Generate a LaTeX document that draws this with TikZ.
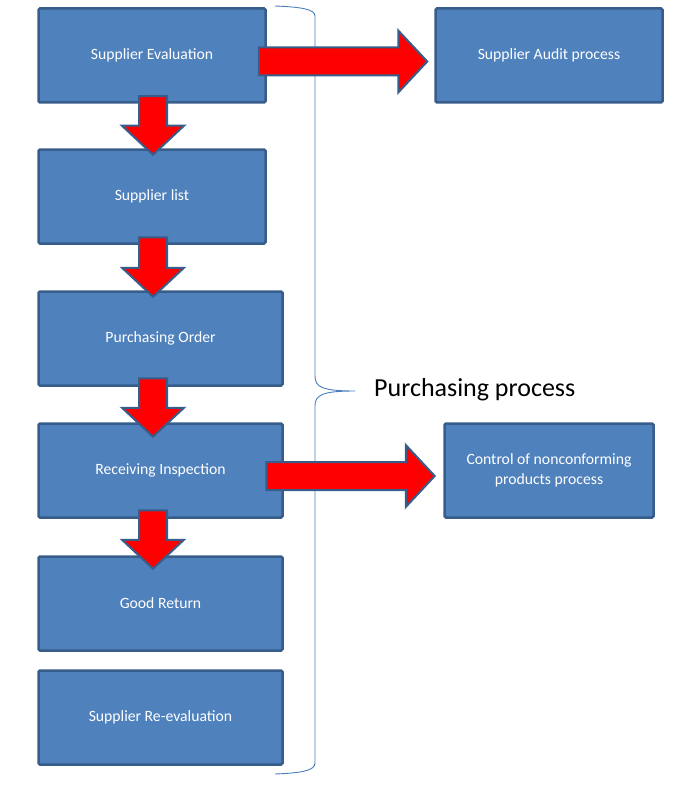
\documentclass[tikz,border=0pt]{standalone}
\usepackage{fontspec}
\setmainfont{Carlito}
\usetikzlibrary{calc}
\definecolor{boxfill}{HTML}{4F81BD}
\definecolor{boxline}{HTML}{385D8A}
\definecolor{bracecol}{HTML}{4A7EBB}
\newcommand{\varrowshape}[2]{%
  \draw[redarrow] let \p1=(#1), \p2=(#2) in
    (\x1-14pt,\y1) -- (\x1+14pt,\y1) -- (\x1+14pt,\y2+29pt) -- (\x1+31pt,\y2+29pt)
    -- (\x2,\y2) -- (\x1-31pt,\y2+29pt) -- (\x1-14pt,\y2+29pt) -- cycle;}
\newcommand{\harrowshape}[2]{%
  \draw[redarrow] let \p1=(#1), \p2=(#2) in
    (\x1,\y1+14pt) -- (\x2-29pt,\y1+14pt) -- (\x2-29pt,\y1+31pt) -- (\x2,\y1)
    -- (\x2-29pt,\y1-31pt) -- (\x2-29pt,\y1-14pt) -- (\x1,\y1-14pt) -- cycle;}
\begin{document}
\begin{tikzpicture}[x=1pt,y=-1pt,
  box/.style={draw=boxline, line width=2.5pt, fill=boxfill, rounded corners=1.5pt,
    text=white, font=\fontsize{15.7}{20}\selectfont, align=center, inner sep=0pt,
    minimum height=94pt},
  narrowbox/.style={box, minimum width=227pt},
  widebox/.style={box, minimum width=244pt},
  redarrow/.style={draw=boxline, fill=red, line width=2pt, line join=miter},
  bracestyle/.style={draw=bracecol, line width=0.9pt}]
\useasboundingbox (0,0) rectangle (688,789);
% boxes
\node[narrowbox] (se) at (152,55.5) {Supplier Evaluation};
\node[narrowbox] (sl) at (152,196.5) {Supplier list};
\node[widebox] (po) at (160.5,338.5) {Purchasing Order};
\node[widebox] (ri) at (160.5,470.5) {Receiving Inspection};
\node[widebox] (gr) at (160.5,603.5) {Good Return};
\node[widebox] (sr) at (160.5,717.5) {Supplier Re-evaluation};
\node[narrowbox] (sa) at (549,55.5) {Supplier Audit process};
\node[box, minimum width=209pt] (cn) at (549,470.5) {Control of nonconforming\\products process};
% brace and label
\node[font=\fontsize{26}{30}\selectfont, anchor=west, inner sep=0pt] (lbl) at (374,390) {Purchasing process};
\draw[bracestyle] (275,6) .. controls (300,7) and (315,9) .. (315,16)
  -- (315,376) .. controls (315,387) and (322,391) .. (355,391)
  .. controls (322,391) and (315,395) .. (315,406)
  -- (315,763) .. controls (315,771) and (300,773) .. (275,774);
% down arrows
\varrowshape{$(se.south)+(1,-7.5)$}{$(sl.north)+(1,6.5)$}
\varrowshape{$(sl.south)+(1,-7.5)$}{$(po.north)+(-7.5,6.5)$}
\varrowshape{$(po.south)+(-7.5,-8.5)$}{$(ri.north)+(-7.5,14.5)$}
\varrowshape{$(ri.south)+(-7.5,-8.5)$}{$(gr.north)+(-7.5,13.5)$}
% right arrows
\harrowshape{$(se.east)+(-8,6)$}{$(sa.west)+(-7,6)$}
\harrowshape{$(ri.east)+(-17.5,5.5)$}{$(cn.west)+(-8.5,5.5)$}
\end{tikzpicture}
\end{document}
